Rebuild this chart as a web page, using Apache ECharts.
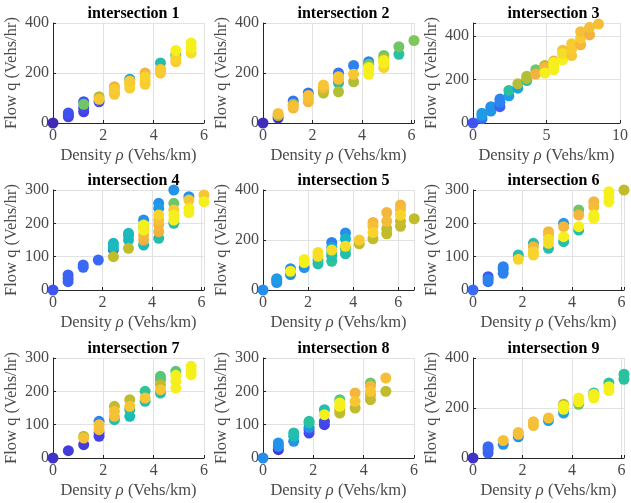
<!DOCTYPE html>
<html>
<head>
<meta charset="utf-8">
<script src="https://cdn.jsdelivr.net/npm/echarts@6/dist/echarts.min.js"></script>
<style>
  html, body { margin: 0; padding: 0; background: #fff; }
  #chart { width: 631px; height: 503px; }
</style>
</head>
<body>
<div id="chart"></div>
<script>
// each point: [density (veh/km), flow (veh/hr), colour level 0..1]
const inter1 = [
  [0,0,0.02],
  [0.61,25,0.1],[0.61,32,0.12],[0.61,40,0.14],
  [1.22,45,0.1],[1.22,60,0.12],[1.22,85,0.15],[1.22,75,0.58],
  [1.83,85,0.15],[1.83,105,0.68],[1.83,95,0.88],
  [2.44,115,0.88],[2.44,145,0.8],[2.44,125,0.88],[2.44,135,0.9],
  [3.05,175,0.3],[3.05,160,0.8],[3.05,140,0.9],[3.05,155,0.92],[3.05,168,0.9],
  [3.66,200,0.8],[3.66,155,0.9],[3.66,170,0.9],[3.66,185,0.92],
  [4.27,240,0.45],[4.27,215,0.82],[4.27,200,0.88],[4.27,210,0.9],
  [4.88,270,0.45],[4.88,245,0.9],[4.88,260,0.92],[4.88,290,1.0],
  [5.49,280,0.95],[5.49,300,1.0],[5.49,320,1.0]
];
const inter2 = [
  [0,0,0.03],
  [0.61,20,0.05],[0.61,30,0.68],[0.61,38,0.85],
  [1.22,88,0.22],[1.22,75,0.68],[1.22,60,0.82],[1.22,68,0.85],
  [1.83,120,0.22],[1.83,85,0.82],[1.83,100,0.85],[1.83,110,0.86],
  [2.44,120,0.68],[2.44,130,0.7],[2.44,140,0.82],[2.44,152,0.88],
  [3.05,200,0.22],[3.05,160,0.45],[3.05,125,0.68],[3.05,175,0.85],[3.05,185,0.88],
  [3.66,230,0.25],[3.66,165,0.68],[3.66,195,0.88],
  [4.27,245,0.25],[4.27,235,0.58],[4.27,195,1.0],[4.27,210,1.0],[4.27,222,1.0],
  [4.88,270,0.58],[4.88,258,0.68],[4.88,222,0.92],[4.88,240,1.0],[4.88,250,1.0],
  [5.49,275,0.48],[5.49,305,0.58],
  [6.1,330,0.6]
];
const inter3 = [
  [0,0,0.15],
  [0.61,20,0.2],[0.61,35,0.3],[0.61,45,0.3],
  [1.22,55,0.28],[1.22,70,0.3],[1.22,75,0.28],
  [1.83,75,0.18],[1.83,95,0.25],[1.83,110,0.25],
  [2.44,125,0.3],[2.44,150,0.48],
  [3.05,160,0.32],[3.05,180,0.68],
  [3.66,195,0.48],[3.66,205,0.68],[3.66,215,0.68],
  [4.27,245,0.58],[4.27,225,0.8],
  [4.88,265,0.68],[4.88,255,0.82],[4.88,230,1.0],
  [5.49,285,0.8],[5.49,245,1.0],[5.49,265,1.0],[5.49,278,1.0],
  [6.1,335,0.85],[6.1,290,1.0],[6.1,305,1.0],[6.1,320,0.95],
  [6.71,310,0.88],[6.71,340,0.9],[6.71,365,0.9],
  [7.32,360,0.82],[7.32,390,0.9],[7.32,420,0.85],
  [7.93,405,0.8],[7.93,440,0.85],
  [8.54,455,0.85]
];
const inter4 = [
  [0,0,0.15],
  [0.61,25,0.18],[0.61,35,0.18],[0.61,45,0.18],
  [1.22,68,0.2],[1.22,75,0.2],
  [1.83,90,0.2],
  [2.44,120,0.25],[2.44,140,0.4],[2.44,130,0.42],[2.44,100,0.7],
  [3.05,165,0.28],[3.05,150,0.4],[3.05,170,0.42],[3.05,125,0.7],
  [3.66,210,0.28],[3.66,135,0.42],[3.66,190,0.58],[3.66,150,0.8],[3.66,165,0.82],[3.66,180,1.0],[3.66,195,1.0],
  [4.27,260,0.28],[4.27,245,0.3],[4.27,155,0.45],[4.27,175,0.8],[4.27,195,0.82],[4.27,210,0.85],[4.27,225,0.92],
  [4.88,300,0.28],[4.88,260,0.58],[4.88,200,0.45],[4.88,240,0.9],[4.88,210,1.0],[4.88,225,1.0],
  [5.49,280,0.28],[5.49,270,0.88],[5.49,232,1.0],[5.49,245,1.0],
  [6.1,285,0.88],[6.1,265,1.0]
];
const inter5 = [
  [0,0,0.27],
  [0.61,30,0.28],[0.61,40,0.28],[0.61,45,0.3],
  [1.22,62,0.28],[1.22,85,0.28],[1.22,75,1.0],
  [1.83,90,0.28],[1.83,110,1.0],[1.83,122,1.0],
  [2.44,105,0.45],[2.44,120,0.48],[2.44,135,0.95],[2.44,150,0.95],
  [3.05,190,0.25],[3.05,170,0.35],[3.05,115,0.5],[3.05,135,0.45],[3.05,150,0.48],[3.05,160,0.95],
  [3.66,228,0.27],[3.66,205,0.38],[3.66,145,0.45],[3.66,165,0.48],[3.66,175,0.95],
  [4.27,185,0.7],[4.27,200,0.9],
  [4.88,205,0.7],[4.88,270,0.82],[4.88,255,0.85],[4.88,230,0.92],
  [5.49,225,0.7],[5.49,245,0.7],[5.49,310,0.82],[5.49,275,0.84],
  [6.1,255,0.7],[6.1,275,0.72],[6.1,340,0.82],[6.1,322,0.84],[6.1,300,0.92],
  [6.71,285,0.7]
];
const inter6 = [
  [0,0,0.2],
  [0.61,40,0.15],[0.61,25,0.22],[0.61,32,0.25],
  [1.22,50,0.25],[1.22,62,0.25],[1.22,70,0.25],
  [1.83,105,0.45],[1.83,92,0.92],
  [2.44,140,0.45],[2.44,130,0.82],[2.44,105,0.92],[2.44,115,0.92],
  [3.05,125,0.45],[3.05,175,0.82],[3.05,165,0.84],[3.05,140,0.95],[3.05,152,0.95],
  [3.66,145,0.45],[3.66,200,0.3],[3.66,190,0.82],[3.66,160,1.0],
  [4.27,240,0.58],[4.27,180,0.45],[4.27,225,0.82],[4.27,190,1.0],
  [4.88,265,0.82],[4.88,250,0.84],[4.88,215,1.0],[4.88,225,1.0],
  [5.49,265,1.0],[5.49,280,1.0],[5.49,295,1.0],
  [6.1,300,0.7]
];
const inter7 = [
  [0,0,0.05],
  [0.61,22,0.08],
  [1.22,40,0.08],[1.22,65,0.7],[1.22,60,0.85],
  [1.83,65,0.1],[1.83,75,0.1],[1.83,110,0.25],[1.83,85,0.85],[1.83,100,0.85],
  [2.44,115,0.45],[2.44,155,0.7],[2.44,125,0.85],[2.44,140,0.86],
  [3.05,125,0.42],[3.05,145,0.45],[3.05,175,0.7],[3.05,155,0.88],
  [3.66,170,0.45],[3.66,200,0.5],[3.66,180,0.88],
  [4.27,195,0.45],[4.27,245,0.55],[4.27,235,0.55],[4.27,220,0.7],[4.27,205,0.88],
  [4.88,260,0.55],[4.88,210,1.0],[4.88,230,1.0],[4.88,248,1.0],
  [5.49,250,1.0],[5.49,262,1.0],[5.49,275,1.0]
];
const inter8 = [
  [0,0,0.27],
  [0.61,25,0.08],[0.61,35,0.28],[0.61,45,0.28],
  [1.22,50,0.28],[1.22,65,0.42],[1.22,75,0.45],
  [1.83,75,0.12],[1.83,85,0.15],[1.83,92,0.28],[1.83,105,0.45],[1.83,110,0.48],
  [2.44,100,0.1],[2.44,110,0.12],[2.44,145,0.45],[2.44,130,1.0],
  [3.05,175,0.55],[3.05,135,0.7],[3.05,145,0.7],[3.05,155,1.0],[3.05,165,1.0],
  [3.66,150,0.7],[3.66,195,0.82],[3.66,170,0.88],
  [4.27,225,0.58],[4.27,175,0.7],[4.27,190,0.72],[4.27,215,0.82],[4.27,200,0.88],
  [4.88,200,0.7],[4.88,240,0.85]
];
const inter9 = [
  [0,0,0.05],
  [0.61,20,0.18],[0.61,35,0.18],[0.61,45,0.2],
  [1.22,55,0.28],[1.22,70,0.85],
  [1.83,85,0.28],[1.83,95,0.85],[1.83,102,0.85],
  [2.44,130,0.85],[2.44,145,0.85],
  [3.05,150,0.32],[3.05,160,0.85],
  [3.66,180,0.32],[3.66,215,0.68],[3.66,195,1.0],[3.66,208,1.0],
  [4.27,215,0.58],[4.27,225,1.0],[4.27,240,1.0],
  [4.88,260,0.48],[4.88,250,0.7],[4.88,240,1.0],[4.88,255,1.0],
  [5.49,300,0.48],[5.49,270,1.0],[5.49,285,1.0],
  [6.1,315,0.48],[6.1,335,0.48]
];

const panelTitles = ['intersection 1','intersection 2','intersection 3','intersection 4','intersection 5',
  'intersection 6','intersection 7','intersection 8','intersection 9'];
const xMax  = [6, 6.1, 10, 6.1, 6.7, 6.1, 6, 6, 6.1];
const xStep = [2, 2, 5, 2, 2, 2, 2, 2, 2];
const yMax  = [400, 400, 460, 300, 400, 300, 300, 300, 400];
const yStep = [200, 200, 200, 100, 200, 100, 100, 100, 200];

const panels = [inter1, inter2, inter3, inter4, inter5, inter6, inter7, inter8, inter9];

// parula-like colour ramp
const parula = ['#3E26A8','#4640E8','#3A6AF5','#1E9CE6','#17B8C4','#2FC397',
  '#80C75A','#C0BC2C','#F3B140','#F8CC30','#F5F01C'];

const serif = '"Liberation Serif", "Times New Roman", serif';
const txt = '#4a4a4a';
const gridLeft = [53, 263, 473];
const gridTop = [23, 190, 358];
const W = 151, H = 100;

const onStep = (v, s) => Math.abs(v / s - Math.round(v / s)) < 1e-6;

const grids = [], xAxes = [], yAxes = [], titles = [], series = [];
panels.forEach((pts, i) => {
  const col = i % 3, row = Math.floor(i / 3);
  grids.push({ left: gridLeft[col], top: gridTop[row], width: W, height: H });
  titles.push({
    text: panelTitles[i],
    left: gridLeft[col] + W / 2,
    top: gridTop[row] - 22,
    textAlign: 'center',
    textStyle: { fontFamily: serif, fontWeight: 'bold', fontSize: 16, color: '#000' }
  });
  xAxes.push({
    gridIndex: i, type: 'value', min: 0, max: xMax[i], interval: xStep[i],
    axisLine: { show: true, onZero: false, lineStyle: { color: '#262626', width: 1 } },
    axisTick: { show: true, inside: true, length: 3, lineStyle: { color: '#262626' } },
    axisLabel: { fontFamily: serif, fontSize: 16, color: txt, margin: 5,
      formatter: v => onStep(v, xStep[i]) ? String(v) : '' },
    splitLine: { show: true, lineStyle: { color: '#e2e2e2', width: 1 } },
    name: 'Density {i|ρ} (Vehs/km)', nameLocation: 'middle', nameGap: 24,
    nameTextStyle: { fontFamily: serif, fontSize: 16.5, color: txt,
      rich: { i: { fontFamily: serif, fontStyle: 'italic', fontSize: 16.5, color: txt } } }
  });
  yAxes.push({
    gridIndex: i, type: 'value', min: 0, max: yMax[i], interval: yStep[i],
    axisLine: { show: true, onZero: false, lineStyle: { color: '#262626', width: 1 } },
    axisTick: { show: true, inside: true, length: 3, lineStyle: { color: '#262626' } },
    axisLabel: { fontFamily: serif, fontSize: 16, color: txt, margin: 4,
      formatter: v => onStep(v, yStep[i]) ? String(v) : '' },
    splitLine: { show: true, lineStyle: { color: '#e2e2e2', width: 1 } },
    name: 'Flow q (Vehs/hr)', nameLocation: 'middle', nameGap: 33, nameRotate: 90,
    nameTextStyle: { fontFamily: serif, fontSize: 16.5, color: txt }
  });
  series.push({
    type: 'scatter', xAxisIndex: i, yAxisIndex: i,
    data: pts, symbolSize: 11, clip: false,
    itemStyle: { opacity: 1 }
  });
});

const chart = echarts.init(document.getElementById('chart'));
chart.setOption({
  animation: false,
  backgroundColor: '#fff',
  title: titles,
  grid: grids,
  xAxis: xAxes,
  yAxis: yAxes,
  visualMap: {
    show: false, type: 'continuous', dimension: 2, min: 0, max: 1,
    seriesIndex: series.map((s, i) => i),
    inRange: { color: parula }
  },
  series: series
});
</script>
</body>
</html>
